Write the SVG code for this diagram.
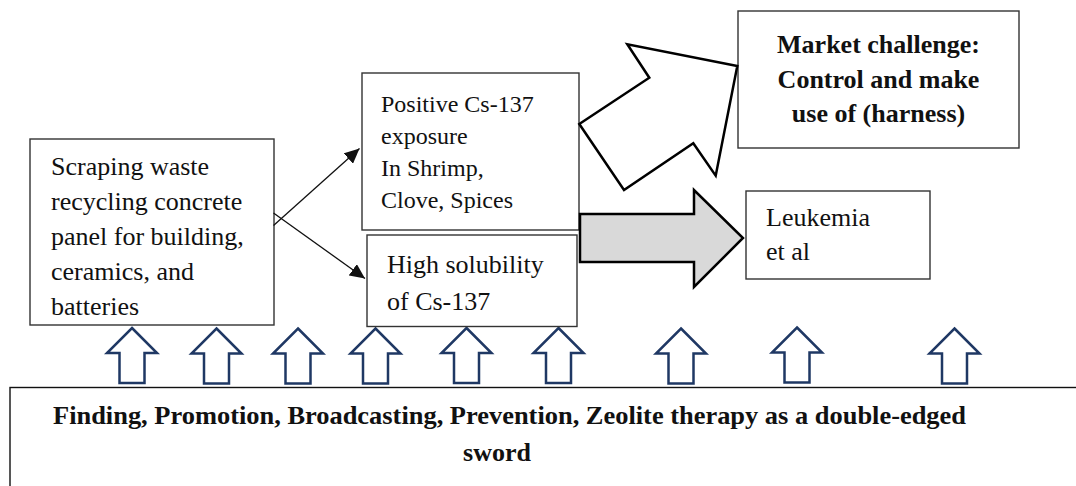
<svg xmlns="http://www.w3.org/2000/svg" width="1076" height="486" viewBox="0 0 1076 486">
<style>
.box{fill:#fff;stroke:#333;stroke-width:1.4}
.t{font-family:"Liberation Serif","Times New Roman",serif;font-size:26px;fill:#111}
.t24{font-family:"Liberation Serif","Times New Roman",serif;font-size:24px;fill:#111}
.b{font-family:"Liberation Serif","Times New Roman",serif;font-size:26px;font-weight:bold;fill:#111}
.up{fill:#fff;stroke:#1f3864;stroke-width:2.5;stroke-linejoin:miter}
.conn{stroke:#111;stroke-width:1.3;fill:none}
</style>
<defs>
<marker id="ah" markerUnits="userSpaceOnUse" markerWidth="16" markerHeight="14" refX="15" refY="7" orient="auto">
<path d="M0,0 L15,7 L0,14 Z" fill="#111"/>
</marker>
<path id="uparr" d="M0,0 L25,25 L12.5,25 L12.5,55 L-12.5,55 L-12.5,25 L-25,25 Z"/>
</defs>

<g id="bottom">
<rect class="box" x="10" y="387.5" width="1080" height="120" style="stroke:#111"/>
<text class="b" x="53" y="424" textLength="913" lengthAdjust="spacingAndGlyphs">Finding, Promotion, Broadcasting, Prevention, Zeolite therapy as a double-edged</text>
<text class="b" x="497" y="461" text-anchor="middle">sword</text>
</g>

<g id="up-arrows">
<use href="#uparr" class="up" x="132" y="328"/>
<use href="#uparr" class="up" x="216.5" y="328.5"/>
<use href="#uparr" class="up" x="298" y="328.5"/>
<use href="#uparr" class="up" x="375.5" y="328.5"/>
<use href="#uparr" class="up" x="466.5" y="328"/>
<use href="#uparr" class="up" x="558.5" y="328"/>
<use href="#uparr" class="up" x="681" y="328.5"/>
<use href="#uparr" class="up" x="797" y="327.5"/>
<use href="#uparr" class="up" x="954.5" y="328.5"/>
</g>

<g id="source">
<rect class="box" x="30" y="139" width="244" height="186"/>
<text class="t" x="51" y="175">Scraping waste</text>
<text class="t" x="51" y="210">recycling concrete</text>
<text class="t" x="51" y="245">panel for building,</text>
<text class="t" x="51" y="280">ceramics, and</text>
<text class="t" x="51" y="315">batteries</text>
</g>

<g id="positive">
<rect class="box" x="362" y="73" width="217" height="157"/>
<text class="t24" x="381" y="112">Positive Cs-137</text>
<text class="t24" x="381" y="143.5">exposure</text>
<text class="t24" x="381" y="175.5">In Shrimp,</text>
<text class="t24" x="381" y="207.5">Clove, Spices</text>
</g>

<g id="solubility">
<rect class="box" x="367" y="235" width="210" height="91.5"/>
<text class="t" x="387" y="273">High solubility</text>
<text class="t" x="387" y="310">of Cs-137</text>
</g>

<g id="market">
<rect class="box" x="738" y="11" width="281" height="137"/>
<text class="b" x="878.5" y="52.5" text-anchor="middle">Market challenge:</text>
<text class="b" x="878.5" y="87.5" text-anchor="middle">Control and make</text>
<text class="b" x="878.5" y="122" text-anchor="middle">use of (harness)</text>
</g>

<g id="leukemia">
<rect class="box" x="746" y="191" width="184" height="88"/>
<text class="t" x="766" y="226">Leukemia</text>
<text class="t" x="766" y="260">et al</text>
</g>

<g id="connectors">
<line class="conn" x1="273.5" y1="225.5" x2="359.5" y2="148.5" marker-end="url(#ah)"/>
<line class="conn" x1="273.5" y1="213" x2="365" y2="278.5" marker-end="url(#ah)"/>
<polygon points="579.3,124 649.3,77.7 627.3,44.3 737.3,66 715.7,175.7 693.3,143.3 624,190" fill="#fff" stroke="#000" stroke-width="2.5" stroke-linejoin="miter"/>
<polygon points="580,214 694,214 694,190 743,238 694,287 694,262 580,262" fill="#d9d9d9" stroke="#000" stroke-width="2.5" stroke-linejoin="miter"/>
</g>
</svg>
